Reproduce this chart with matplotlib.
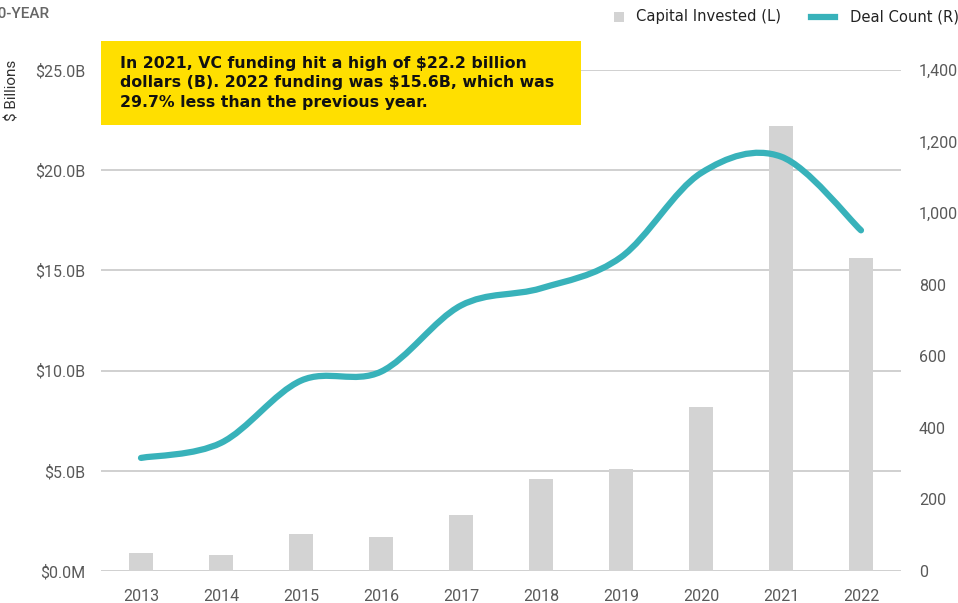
import numpy as np
import matplotlib.pyplot as plt
from matplotlib.path import Path
from matplotlib.patches import PathPatch, Rectangle
from matplotlib.lines import Line2D

# data
years = ['2013', '2014', '2015', '2016', '2017', '2018', '2019', '2020', '2021', '2022']
capital = [0.88, 0.81, 1.85, 1.70, 2.81, 4.6, 5.1, 8.2, 22.2, 15.6]   # $B
deals = [316, 358, 532, 557, 742, 790, 877, 1112, 1158, 952]
left_ticks = [0, 5, 10, 15, 20, 25]
left_labels = ['$0.0M', '$5.0B', '$10.0B', '$15.0B', '$20.0B', '$25.0B']
right_ticks = [0, 200, 400, 600, 800, 1000, 1200, 1400]

bar_color = '#D3D3D3'
line_color = '#38B2BA'
grid_color = '#C8C8C8'
tick_color = '#595959'

plt.rcParams['font.family'] = ['Roboto', 'DejaVu Sans']

W, H = 958, 603
fig = plt.figure(figsize=(W / 100, H / 100), dpi=100, facecolor='white')
ax = fig.add_axes([101 / W, 1 - 571 / H, 800 / W, 501 / H])
ax2 = ax.twinx()

x = np.arange(len(years))
ax.bar(x, capital, width=0.31, color=bar_color, zorder=2)
ax.set_xlim(-0.5, len(years) - 0.5)
ax.set_ylim(0, 25)
ax.set_yticks(left_ticks)
ax.set_yticklabels(left_labels)
ax.set_xticks(x)
ax.set_xticklabels(years)
ax.grid(axis='y', color=grid_color, linewidth=1.2, zorder=0)
ax.set_axisbelow(True)
for a in (ax, ax2):
    for s in a.spines.values():
        s.set_visible(False)
ax.tick_params(axis='both', length=0, labelsize=11.5, colors=tick_color)
ax.tick_params(axis='x', pad=13)
ax.tick_params(axis='y', pad=11)

# smoothed deal count line (Catmull-Rom style bezier through the points)
ax2.set_ylim(0, 1400)
ax2.set_yticks(right_ticks)
ax2.set_yticklabels([f'{v:,}' for v in right_ticks])
ax2.tick_params(axis='y', length=0, labelsize=11.5, colors=tick_color, pad=13)
pts = np.column_stack([x, deals]).astype(float)
verts = [tuple(pts[0])]
codes = [Path.MOVETO]
n = len(pts)
for i in range(n - 1):
    p0 = pts[i - 1] if i > 0 else pts[i]
    p1 = pts[i]
    p2 = pts[i + 1]
    p3 = pts[i + 2] if i + 2 < n else pts[i + 1]
    c1 = p1 + (p2 - p0) / 6
    c2 = p2 - (p3 - p1) / 6
    verts += [tuple(c1), tuple(c2), tuple(p2)]
    codes += [Path.CURVE4] * 3
ax2.add_patch(PathPatch(Path(verts, codes), facecolor='none', edgecolor=line_color,
                        linewidth=4.5, capstyle='round', zorder=3))

# header texts
fig.text(-10 / W, 1 - 14 / H, '10-YEAR', fontsize=11, color='#666666',
         fontweight='medium', va='center', ha='left')
fig.text(12 / W, 1 - 90 / H, '$ Billions', rotation=90, fontsize=11, color='#333333',
         va='center', ha='center')

# annotation box
box = fig.add_axes([101 / W, 1 - 125 / H, 480 / W, 84 / H])
box.set_facecolor('#FFDF00')
box.set_xticks([])
box.set_yticks([])
for s in box.spines.values():
    s.set_visible(False)
box.text(19 / 480, 0.5,
         'In 2021, VC funding hit a high of $22.2 billion\n'
         'dollars (B). 2022 funding was $15.6B, which was\n'
         '29.7% less than the previous year.',
         transform=box.transAxes, fontsize=11.3, fontweight='bold', color='#111111',
         va='center', ha='left', linespacing=1.4, family=['DejaVu Sans'])

# legend drawn by hand to get a square patch and a short line
fig.add_artist(Rectangle((614 / W, 1 - 22 / H), 10 / W, 10 / H,
                         transform=fig.transFigure, facecolor=bar_color, edgecolor='none'))
fig.text(636 / W, 1 - 17 / H, 'Capital Invested (L)', fontsize=10.6, color='#222222',
         va='center', ha='left', family=['DejaVu Sans'])
fig.add_artist(Line2D([811 / W, 835 / W], [1 - 17 / H, 1 - 17 / H],
                      transform=fig.transFigure, color=line_color, linewidth=4.5))
fig.text(850 / W, 1 - 17 / H, 'Deal Count (R)', fontsize=10.6, color='#222222',
         va='center', ha='left', family=['DejaVu Sans'])

fig.savefig('out.png', dpi=100, facecolor='white')
